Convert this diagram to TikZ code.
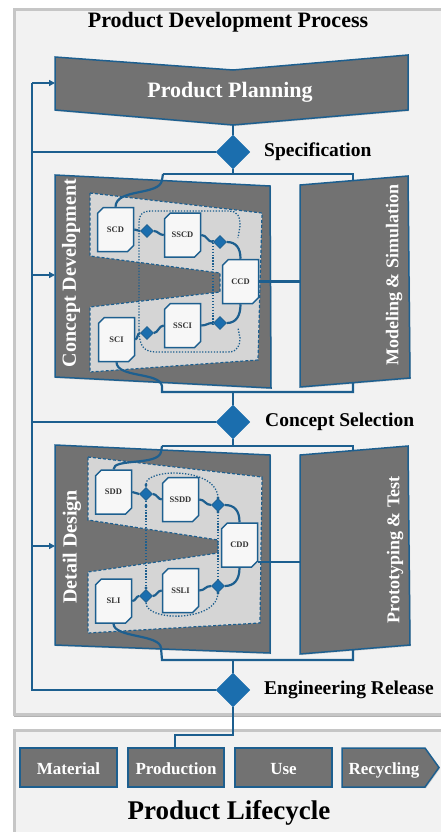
\documentclass[tikz,border=0pt]{standalone}
\usepackage{fontspec}
\setmainfont{Liberation Serif}
\usetikzlibrary{arrows.meta,shapes.geometric,shapes.misc,shadows}
\definecolor{bl}{HTML}{1D5F8F}
\definecolor{dia}{HTML}{1B6EAE}
\definecolor{dg}{HTML}{727272}
\definecolor{lg}{HTML}{D5D5D5}
\definecolor{bgc}{HTML}{F2F2F2}
\definecolor{frm}{HTML}{C6C6C6}
\definecolor{nodefill}{HTML}{F7F7F7}
\newcommand\myfs[1]{\fontsize{#1}{#1}\selectfont}
\begin{document}
\begin{tikzpicture}[x=1pt,y=-1pt,
  panel/.style={fill=dg, draw=bl, line width=1.5pt, drop shadow={opacity=0.3, shadow xshift=1pt, shadow yshift=-1.2pt}},
  conn/.style={draw=bl, line width=2.2pt},
  arr/.style={-{Triangle[length=6pt,width=6pt]}},
  bigdia/.style={diamond, aspect=1, fill=dia, draw=dia, minimum width=34pt, minimum height=34pt, inner sep=0pt},
  smdia/.style={diamond, aspect=1, fill=dia, draw=bl, line width=0.6pt, minimum width=13pt, minimum height=13pt, inner sep=0pt},
  docbox/.style={chamfered rectangle, chamfered rectangle corners={north west,south east}, chamfered rectangle xsep=4.5pt, draw=bl, line width=1.5pt, fill=nodefill, minimum width=36pt, minimum height=44pt, inner sep=0pt, font=\myfs{8.5}\bfseries, text=black!80},
  lregion/.style={fill=lg, draw=bl, line width=1.2pt, dash pattern=on 3pt off 2pt},
  dotl/.style={draw=bl, line width=1.3pt, dash pattern=on 1.3pt off 1.6pt},
  wtxt/.style={text=white, font=\bfseries},
  lbl/.style={text=black, font=\myfs{19.5}\bfseries, anchor=west, inner sep=0pt},
  lcbox/.style={fill=dg, draw=bl, line width=1.5pt, minimum height=39pt, inner sep=0pt, text=white, font=\myfs{17}\bfseries, text height=16pt, text depth=3pt, drop shadow={opacity=0.3, shadow xshift=1pt, shadow yshift=-1.2pt}},
  sdot/.style={circle, fill=bl, inner sep=0pt, minimum size=3.4pt}
]
\useasboundingbox (0,0) rectangle (440,832);
\fill[white] (0,0) rectangle (440,832);
% frames
\draw[frm, fill=bgc, line width=3pt] (14,10) rectangle (470,714);
\draw[black!30, line width=1.5pt] (14,716.5) -- (470,716.5);
\draw[frm, fill=bgc, line width=3pt] (14,730) rectangle (470,860);

\node[font=\myfs{22}\bfseries, inner sep=0pt] (title) at (228,22) {Product Development Process};

% Product planning
\draw[panel] (55,57) -- (233,70) -- (408,55) -- (408,110) -- (233,125) -- (55,110) -- cycle;
\node[wtxt, font=\myfs{22}\bfseries] (pp) at (230,92) {Product Planning};
\coordinate (ppB) at (233,125);
\coordinate (ppL) at (55,83);

% big diamonds
\node[bigdia] (spec) at (233,152) {};
\node[lbl] (specl) at (264,152) {Specification};
\node[bigdia] (cs) at (233,422) {};
\node[lbl] (csl) at (265,422) {Concept Selection};
\node[bigdia] (er) at (233,690) {};
\node[lbl] (erl) at (264,690) {Engineering Release};

% feedback line
\coordinate (fbTop) at (32,83);
\coordinate (cdL) at (55,275);
\coordinate (ddL) at (55,546);
\draw[conn] (ppB) -- (spec.north);
\draw[conn] (er.west) -| (fbTop);
\draw[conn, arr] (fbTop) -- (ppL);
\draw[conn] (spec.west) -- (spec.west -| fbTop);
\draw[conn] (cs.west) -- (cs.west -| fbTop);
\draw[conn, arr] (cdL -| fbTop) -- (cdL);
\draw[conn, arr] (ddL -| fbTop) -- (ddL);

% ===== Concept development =====
\draw[panel] (55,175) -- (270,186) -- (271,388) -- (55,377) -- cycle;
\draw[panel] (300,185) -- (408,176) -- (410,378) -- (300,387) -- cycle;
\draw[lregion] (90,193) -- (262,213) -- (258,360) -- (90,372) -- (90,307) -- (220,292) -- (220,273) -- (90,256) -- cycle;
\node[wtxt, rotate=90, font=\myfs{20}\bfseries] (cdlab) at (71,273) {Concept Development};
\node[wtxt, rotate=90, font=\myfs{18}\bfseries] (mslab) at (394,275) {Modeling \& Simulation};

\node[docbox] (SCD) at (115.5,229.5) {SCD};
\node[docbox] (SSCD) at (182.5,235) {SSCD};
\node[docbox] (CCD) at (240.5,281.5) {CCD};
\node[docbox] (SCI) at (116.5,339.5) {SCI};
\node[docbox] (SSCI) at (182.5,325.5) {SSCI};

% dotted loops (concept)
\draw[dotl] (139,330) -- (139,224) .. controls (139,213) and (143,211) .. (153,211) -- (228,211) .. controls (238,211) and (240,216) .. (240,226) -- (238,238);
\draw[dotl] (213,240) -- (213,326);
\draw[dotl] (139,330) .. controls (139,347) and (145,352) .. (156,352) -- (228,352) .. controls (238,352) and (240,345) .. (240,338) -- (238,328);

\node[smdia] (c1) at (147,231) {};
\node[smdia] (c2) at (220,242) {};
\node[smdia] (c3) at (147,333) {};
\node[smdia] (c4) at (220,323) {};

\draw[conn] (SCD.east) -- (c1.west);
\draw[conn] (c1.east) .. controls (158,231) and (159,235) .. (SSCD.west);
\draw[conn] (SSCD.east) .. controls (207,235) and (207,242) .. (c2.west);
\draw[conn] (c2.east) .. controls (236,242) and (240.5,248) .. (CCD.north);
\draw[conn] (SCI.east) .. controls (138,339) and (137,333) .. (c3.west);
\draw[conn] (c3.east) .. controls (158,333) and (159,325.5) .. (SSCI.west);
\draw[conn] (SSCI.east) .. controls (207,325.5) and (207,323) .. (c4.west);
\draw[conn] (c4.east) .. controls (236,323) and (240.5,316) .. (CCD.south);

% connectors concept
\coordinate (t1L) at (163,174);
\coordinate (t1R) at (353,174);
\coordinate (msT) at (353,181);
\coordinate (msL) at (300,281.5);
\coordinate (b1L) at (162,392);
\coordinate (b1R) at (353,392);
\coordinate (msB) at (353,382.5);
\draw[conn] (spec.south) -- (spec.south |- t1L);
\draw[conn] (t1L) -- (t1R) -- (msT);
\draw[conn] (t1L) -- (162,180) .. controls (160,196) and (116,188) .. (SCD.north);
\draw[conn] (CCD.east) -- (msL);
\draw[conn] (SCI.south) .. controls (117,378) and (160,372) .. (162,386) -- (b1L) -- (b1R) -- (msB);
\draw[conn] (cs.north |- b1L) -- (cs.north);

% ===== Detail design =====
\draw[panel] (55,445) -- (270,455) -- (270,653) -- (55,645) -- cycle;
\draw[panel] (300,455) -- (408,446) -- (410,645) -- (300,654) -- cycle;
\draw[lregion] (88,457) -- (262,477) -- (260,623) -- (88,633) -- (88,572) -- (218,553) -- (218,540) -- (88,520) -- cycle;
\node[wtxt, rotate=90, font=\myfs{20}\bfseries] (ddlab) at (72,547) {Detail Design};
\node[wtxt, rotate=90, font=\myfs{18}\bfseries] (ptlab) at (395,550) {Prototyping \& Test};

\node[docbox] (SDD) at (113.5,492) {SDD};
\node[docbox] (SSDD) at (180.5,499.5) {SSDD};
\node[docbox] (CDD) at (239.5,545) {CDD};
\node[docbox] (SLI) at (113.5,601) {SLI};
\node[docbox] (SSLI) at (180.5,590.5) {SSLI};

\node[smdia] (e1) at (146,494) {};
\node[smdia] (e2) at (218,505) {};
\node[smdia] (e3) at (146,596) {};
\node[smdia] (e4) at (218,586) {};

\draw[dotl] (e1.north) -- (146,484) .. controls (146,468) and (218,467) .. (e2.north);
\draw[dotl] (e1.south) -- (e3.north);
\draw[dotl] (e2.south) -- (e4.north);
\draw[dotl] (e3.south) .. controls (146,622) and (218,622) .. (e4.south);
\node[sdot] (p1) at (146,485) {};
\node[sdot] (p2) at (146,506) {};
\node[sdot] (p3) at (146,588) {};
\node[sdot] (p4) at (218,498) {};
\node[sdot] (p5) at (218,512) {};
\node[sdot] (p6) at (218,593) {};

\draw[conn] (SDD.east) -- (e1.west);
\draw[conn] (e1.east) .. controls (157,494) and (158,499.5) .. (SSDD.west);
\draw[conn] (SSDD.east) .. controls (205,499.5) and (205,505) .. (e2.west);
\draw[conn] (e2.east) .. controls (234,505) and (239.5,510) .. (CDD.north);
\draw[conn] (SLI.east) .. controls (136,601) and (136,596) .. (e3.west);
\draw[conn] (e3.east) .. controls (157,596) and (157,590.5) .. (SSLI.west);
\draw[conn] (SSLI.east) .. controls (205,590.5) and (205,586) .. (e4.west);
\draw[conn] (e4.east) .. controls (234,586) and (239.5,580) .. (CDD.south);

\coordinate (t2L) at (162,446);
\coordinate (t2R) at (353,446);
\coordinate (ptT) at (353,451);
\coordinate (ptL) at (300,562);
\coordinate (b2L) at (162,660);
\coordinate (b2R) at (353,660);
\coordinate (ptB) at (353,650);
\draw[conn] (cs.south) -- (cs.south |- t2L);
\draw[conn] (t2L) -- (t2R) -- (ptT);
\draw[conn] (t2L) -- (161,452) .. controls (158,466) and (113,458) .. (SDD.north);
\draw[conn] (CDD.east |- ptL) -- (ptL);
\draw[conn] (SLI.south) .. controls (114,638) and (160,634) .. (161,648) -- (b2L) -- (b2R) -- (ptB);
\draw[conn] (er.north |- b2L) -- (er.north);

% ===== Lifecycle =====
\node[lcbox, minimum width=97pt] (Mat) at (68.5,767.5) {Material};
\node[lcbox, minimum width=96pt] (Prod) at (176,767.5) {Production};
\node[lcbox, minimum width=97pt] (Use) at (283.5,767.5) {Use};
\draw[fill=dg, draw=bl, line width=1.5pt, drop shadow={opacity=0.3, shadow xshift=1pt, shadow yshift=-1.2pt}] (342,748) -- (425,748) -- (439,767.5) -- (425,787) -- (342,787) -- cycle;
\node[text=white, font=\myfs{17}\bfseries, text height=16pt, text depth=3pt] (Rec) at (384,767.5) {Recycling};
\coordinate (pj) at (175,735);
\draw[conn] (er.south) |- (pj) -- (pj |- Prod.north);

\node[font=\myfs{27}\bfseries, inner sep=0pt] (plc) at (229,813) {Product Lifecycle};
\end{tikzpicture}
\end{document}
